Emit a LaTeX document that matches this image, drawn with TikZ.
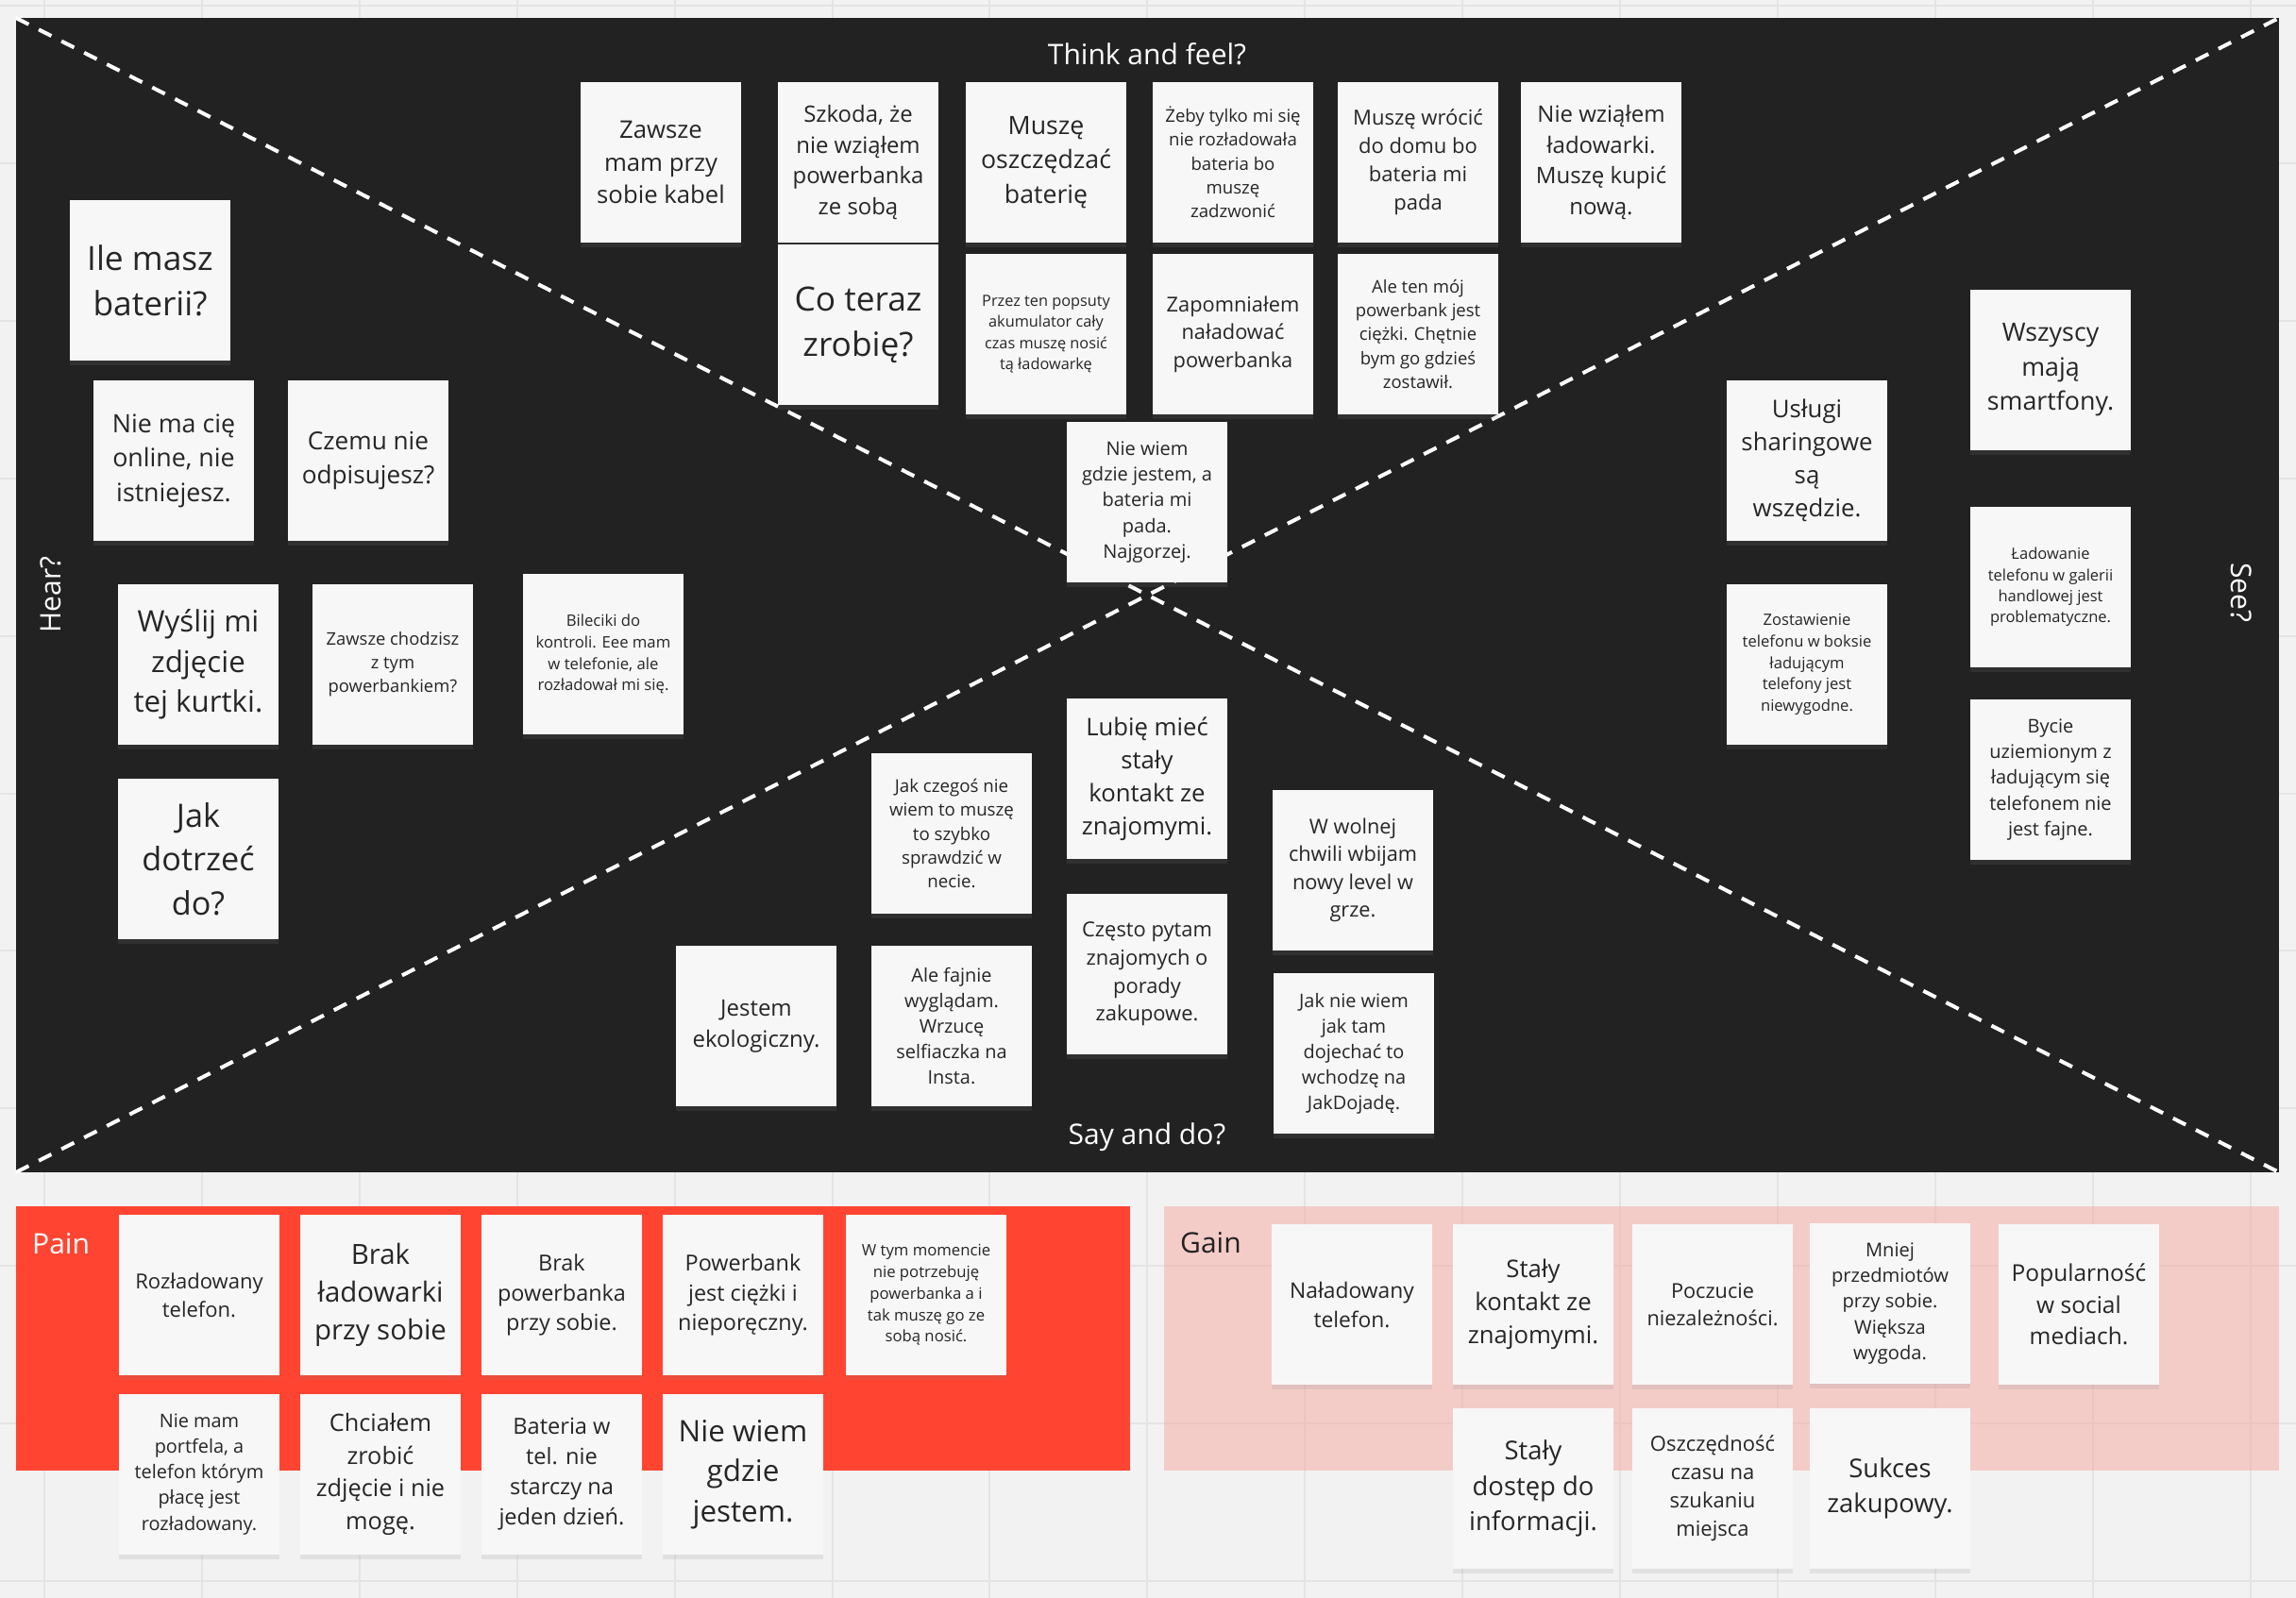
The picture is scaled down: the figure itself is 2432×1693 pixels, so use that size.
\documentclass[tikz,border=0pt]{standalone}
\usepackage{fontspec}
\setmainfont{Open Sans}
\usepackage{xfp}
\usetikzlibrary{shadows}

\definecolor{canvas}{HTML}{F2F2F2}
\definecolor{gridline}{HTML}{E4E4E4}
\definecolor{board}{HTML}{222222}
\definecolor{painred}{HTML}{FF4532}
\definecolor{gainpink}{HTML}{F4A89F}
\definecolor{paper}{HTML}{F7F7F7}
\definecolor{ink}{HTML}{262626}

\newcommand\nfont[1]{\fontsize{#1}{\fpeval{1.36*#1}}\selectfont}

\begin{document}
\begin{tikzpicture}[
    x=1pt, y=-1pt,
    note/.style={fill=paper, text=ink, align=center, inner sep=0pt,
        minimum width=170pt, minimum height=170pt,
        drop shadow={shadow xshift=0pt, shadow yshift=-5pt, opacity=0.15}},
    fs/.style={font=\nfont{#1}},
    area/.style={inner sep=0pt, outer sep=0pt, anchor=north west},
    diag/.style={white, line width=4pt, dash pattern=on 15pt off 12pt},
    title/.style={text=white, font=\nfont{30}}
]
    \useasboundingbox (0,0) rectangle (2432,1693);
    \fill[canvas] (0,0) rectangle (2432,1693);
    \foreach \k in {0,...,14}
        \draw[gridline, line width=2pt] ({47+166.9*\k},0) -- ({47+166.9*\k},1693);
    \foreach \k in {0,...,10}
        \draw[gridline, line width=2pt] (0,{6+166.9*\k}) -- (2432,{6+166.9*\k});

    \node[area, fill=board, minimum width=2397pt, minimum height=1223pt] (board) at (17,19) {};
    \node[area, fill=painred, minimum width=1180pt, minimum height=280pt] (painbox) at (17,1278) {};
    \node[area, fill=gainpink, fill opacity=0.5, minimum width=1181pt, minimum height=280pt] (gainbox) at (1233,1278) {};

    \draw[diag] (board.north west) -- (board.south east);
    \draw[diag] (board.south west) -- (board.north east);

    \node[title] (think) at (1215,57) {Think and feel?};
    \node[title] (say) at (1215,1205) {Say and do?};
    \node[title, rotate=90] (hear) at (54,630) {Hear?};
    \node[title, rotate=-90] (see) at (2374,628) {See?};
    \node[title, inner sep=0pt, anchor=base west] (pain) at (34,1328) {Pain};
    \node[title, inner sep=0pt, text=board, anchor=base west] (gain) at (1250,1327) {Gain};

    % think and feel
    \node[note, fs=25.7] (t1) at (700,172) {Zawsze\\mam przy\\sobie kabel};
    \node[note, fs=23.9] (t2) at (909,172) {Szkoda, że\\nie wziąłem\\powerbanka\\ze sobą};
    \node[note, fs=26.7] (t3) at (1108,172) {Muszę\\oszczędzać\\baterię};
    \node[note, fs=18.6] (t4) at (1306,172) {Żeby tylko mi się\\nie rozładowała\\bateria bo\\muszę\\zadzwonić};
    \node[note, fs=22] (t5) at (1502,172) {Muszę wrócić\\do domu bo\\bateria mi\\pada};
    \node[note, fs=24] (t6) at (1696,172) {Nie wziąłem\\ładowarki.\\Muszę kupić\\nową.};
    \node[note, fs=35.3] (t7) at (909,344) {Co teraz\\zrobię?};
    \node[note, fs=16.3] (t8) at (1108,354) {Przez ten popsuty\\akumulator cały\\czas muszę nosić\\tą ładowarkę};
    \node[note, fs=21.8] (t9) at (1306,354) {Zapomniałem\\naładować\\powerbanka};
    \node[note, fs=18.5] (t10) at (1502,354) {Ale ten mój\\powerbank jest\\ciężki. Chętnie\\bym go gdzieś\\zostawił.};
    \node[note, fs=20] (t11) at (1215,532) {Nie wiem\\gdzie jestem, a\\bateria mi\\pada.\\Najgorzej.};

    % hear
    \node[note, fs=35.3] (h1) at (159,297) {Ile masz\\baterii?};
    \node[note, fs=26.8] (h2) at (184,488) {Nie ma cię\\online, nie\\istniejesz.};
    \node[note, fs=26.2] (h3) at (390,488) {Czemu nie\\odpisujesz?};
    \node[note, fs=31.3] (h4) at (210,704) {Wyślij mi\\zdjęcie\\tej kurtki.};
    \node[note, fs=18.4] (h5) at (416,704) {Zawsze chodzisz\\z tym\\powerbankiem?};
    \node[note, fs=16.7] (h6) at (639,693) {Bileciki do\\kontroli. Eee mam\\w telefonie, ale\\rozładował mi się.};
    \node[note, fs=34.2] (h7) at (210,910) {Jak\\dotrzeć\\do?};

    % say and do
    \node[note, fs=25.7] (s1) at (1215,825) {Lubię mieć\\stały\\kontakt ze\\znajomymi.};
    \node[note, fs=18.7] (s2) at (1008,883) {Jak czegoś nie\\wiem to muszę\\to szybko\\sprawdzić w\\necie.};
    \node[note, fs=21.9] (s3) at (1215,1032) {Często pytam\\znajomych o\\porady\\zakupowe.};
    \node[note, fs=21.7] (s4) at (1433,922) {W wolnej\\chwili wbijam\\nowy level w\\grze.};
    \node[note, fs=19.9] (s5) at (1008,1087) {Ale fajnie\\wyglądam.\\Wrzucę\\selfiaczka na\\Insta.};
    \node[note, fs=19.9] (s6) at (1434,1116) {Jak nie wiem\\jak tam\\dojechać to\\wchodzę na\\JakDojadę.};
    \node[note, fs=24] (s7) at (801,1087) {Jestem\\ekologiczny.};

    % see
    \node[note, fs=26.8] (e1) at (2172,392) {Wszyscy\\mają\\smartfony.};
    \node[note, fs=25.8] (e2) at (1914,488) {Usługi\\sharingowe\\są\\wszędzie.};
    \node[note, fs=16.5] (e3) at (2172,622) {Ładowanie\\telefonu w galerii\\handlowej jest\\problematyczne.};
    \node[note, fs=16.6] (e4) at (1914,704) {Zostawienie\\telefonu w boksie\\ładującym\\telefony jest\\niewygodne.};
    \node[note, fs=20] (e5) at (2172,826) {Bycie\\uziemionym z\\ładującym się\\telefonem nie\\jest fajne.};

    % pain
    \node[note, fs=22] (p1) at (211,1372) {Rozładowany\\telefon.};
    \node[note, fs=29.4] (p2) at (403,1372) {Brak\\ładowarki\\przy sobie};
    \node[note, fs=23.4] (p3) at (595,1372) {Brak\\powerbanka\\przy sobie.};
    \node[note, fs=23.4] (p4) at (787,1372) {Powerbank\\jest ciężki i\\nieporęczny.};
    \node[note, fs=16.7] (p5) at (981,1372) {W tym momencie\\nie potrzebuję\\powerbanka a i\\tak muszę go ze\\sobą nosić.};
    \node[note, fs=19.9] (p6) at (211,1562) {Nie mam\\portfela, a\\telefon którym\\płacę jest\\rozładowany.};
    \node[note, fs=25.3] (p7) at (403,1562) {Chciałem\\zrobić\\zdjęcie i nie\\mogę.};
    \node[note, fs=23.6] (p8) at (595,1562) {Bateria w\\tel. nie\\starczy na\\jeden dzień.};
    \node[note, fs=31.4] (p9) at (787,1562) {Nie wiem\\gdzie\\jestem.};

    % gain
    \node[note, fs=22.8] (g1) at (1432,1382) {Naładowany\\telefon.};
    \node[note, fs=25.7] (g2) at (1624,1382) {Stały\\kontakt ze\\znajomymi.};
    \node[note, fs=21.7] (g3) at (1814,1382) {Poczucie\\niezależności.};
    \node[note, fs=20.1] (g4) at (2002,1381) {Mniej\\przedmiotów\\przy sobie.\\Większa\\wygoda.};
    \node[note, fs=24.5] (g5) at (2202,1382) {Popularność\\w social\\mediach.};
    \node[note, fs=27.4] (g6) at (1624,1577) {Stały\\dostęp do\\informacji.};
    \node[note, fs=22] (g7) at (1814,1577) {Oszczędność\\czasu na\\szukaniu\\miejsca};
    \node[note, fs=27.4] (g8) at (2002,1577) {Sukces\\zakupowy.};
\end{tikzpicture}
\end{document}
